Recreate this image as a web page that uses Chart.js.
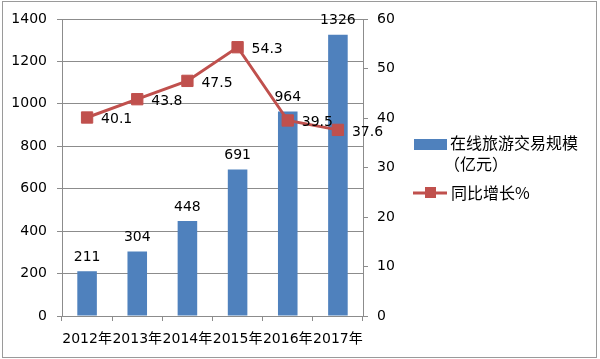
<!DOCTYPE html>
<html>
<head>
<meta charset="utf-8">
<script src="https://cdn.jsdelivr.net/npm/chart.js@4"></script>
<style>
  html, body { margin: 0; padding: 0; background: #fff; }
  #wrap { width: 600px; height: 359px; position: relative; }
</style>
</head>
<body>
<div id="wrap"><canvas id="chart" width="600" height="359"></canvas></div>
<script>
const years = ["2012年", "2013年", "2014年", "2015年", "2016年", "2017年"];
const scaleValues = [211, 304, 448, 691, 964, 1326];
const growthValues = [40.1, 43.8, 47.5, 54.3, 39.5, 37.6];
const scaleName = ["在线旅游交易规模", "（亿元）"];
const growthName = "同比增长%";

const FONT = "'DejaVu Sans', 'Noto Sans CJK SC', sans-serif";
const CJK_FONT = "'Noto Sans CJK SC', sans-serif";
const BLUE = "#4F81BD";
const RED = "#C0504D";
const GRID = "#8c8c8c";

// value labels on bars and points
const valueLabels = {
    id: "valueLabels",
    afterDatasetsDraw(chart) {
        const ctx = chart.ctx;
        ctx.save();
        ctx.font = "14px " + FONT;
        ctx.fillStyle = "#000";

        chart.getDatasetMeta(1).data.forEach((bar, i) => {
            ctx.textAlign = "center";
            ctx.textBaseline = "bottom";
            ctx.fillText(String(scaleValues[i]), bar.x, bar.y - 7);
        });
        chart.getDatasetMeta(0).data.forEach((pt, i) => {
            ctx.textAlign = "left";
            ctx.textBaseline = "middle";
            ctx.fillText(growthValues[i].toFixed(1), pt.x + 14, pt.y + 2);
        });
        ctx.restore();
    }
};

// legend on the right + outer frame
const sideLegend = {
    id: "sideLegend",
    afterDraw(chart) {
        const ctx = chart.ctx;
        ctx.save();
        ctx.fillStyle = BLUE;
        ctx.fillRect(414, 139, 33, 11);

        ctx.strokeStyle = RED;
        ctx.lineWidth = 3;
        ctx.beginPath();
        ctx.moveTo(413, 193);
        ctx.lineTo(447, 193);
        ctx.stroke();
        ctx.fillStyle = RED;
        ctx.fillRect(425, 187, 11, 11);

        ctx.fillStyle = "#000";
        ctx.font = "16px " + CJK_FONT;
        ctx.textAlign = "left";
        ctx.textBaseline = "middle";
        ctx.fillText(scaleName[0], 450, 143);
        ctx.fillText(scaleName[1], 444, 164);
        ctx.fillText(growthName, 451, 193);

        ctx.strokeStyle = "#9a9a9a";
        ctx.lineWidth = 1;
        ctx.strokeRect(2.5, 1.5, 594, 356);
        ctx.restore();
    }
};

new Chart(document.getElementById("chart"), {
    data: {
        labels: years,
        datasets: [
            {
                type: "line",
                label: growthName,
                data: growthValues,
                yAxisID: "y1",
                borderColor: RED,
                borderWidth: 3,
                pointStyle: "rect",
                pointRadius: 8,
                pointBackgroundColor: RED,
                pointBorderColor: RED,
                pointBorderWidth: 1,
                order: 0
            },
            {
                type: "bar",
                label: scaleName.join(""),
                data: scaleValues,
                yAxisID: "y",
                backgroundColor: BLUE,
                barPercentage: 0.39,
                categoryPercentage: 1,
                order: 1
            }
        ]
    },
    options: {
        responsive: false,
        animation: false,
        events: [],
        layout: { padding: { top: 19, left: 0, right: 0, bottom: 0 } },
        plugins: { legend: { display: false }, tooltip: { enabled: false } },
        scales: {
            x: {
                offset: true,
                grid: { offset: true, drawOnChartArea: false, color: GRID, tickLength: 5 },
                border: { color: GRID },
                ticks: { color: "#000", font: { family: FONT, size: 14 }, padding: 10, maxRotation: 0, autoSkip: false },
                afterFit(s) { s.height = 43; }
            },
            y: {
                position: "left",
                min: 0, max: 1400,
                ticks: { stepSize: 200, color: "#000", font: { family: FONT, size: 14 }, padding: 10,
                         callback: v => String(v) },
                grid: { color: GRID, tickLength: 5 },
                border: { color: GRID },
                afterFit(s) { s.width = 62; }
            },
            y1: {
                position: "right",
                min: 0, max: 60,
                ticks: { stepSize: 10, color: "#000", font: { family: FONT, size: 14 }, padding: 9,
                         callback: v => String(v) },
                grid: { drawOnChartArea: false, color: GRID, tickLength: 5 },
                border: { color: GRID },
                afterFit(s) { s.width = 237; }
            }
        }
    },
    plugins: [valueLabels, sideLegend]
});
</script>
</body>
</html>
